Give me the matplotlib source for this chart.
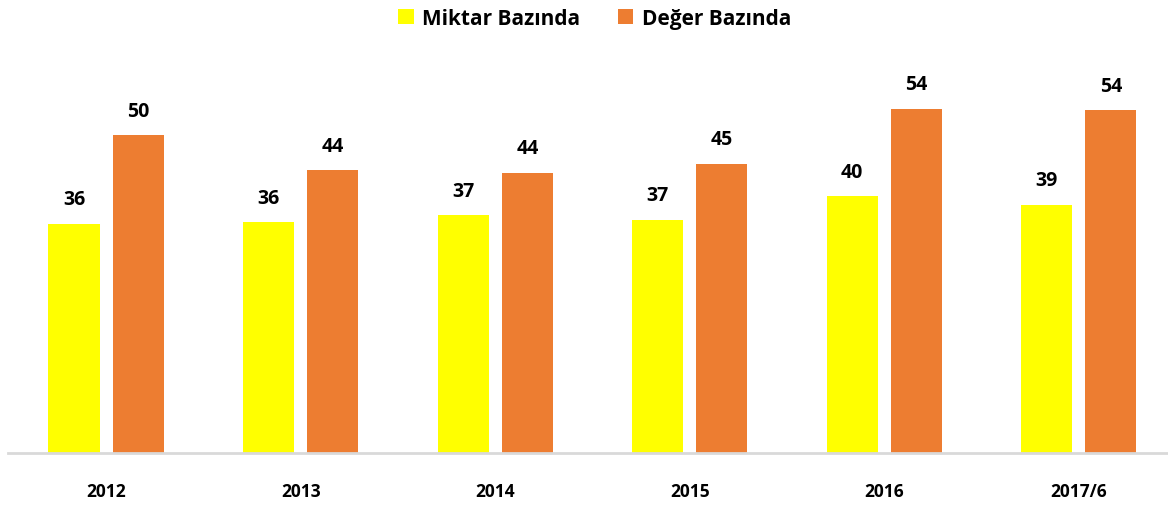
import matplotlib
matplotlib.use('Agg')
import matplotlib.pyplot as plt
import numpy as np

years = ['2012', '2013', '2014', '2015', '2016', '2017/6']
miktar = [36.0, 36.2, 37.3, 36.6, 40.3, 39.0]
deger = [49.9, 44.4, 44.0, 45.4, 54.1, 53.8]

plt.rcParams['font.family'] = ['Open Sans', 'DejaVu Sans']

fig = plt.figure(figsize=(11.68, 5.06), dpi=100)
ax = fig.add_axes([0.0068, 0.1028, 1.0, 0.755])

x = np.arange(len(years))
w = 0.263
off = 0.165
b1 = ax.bar(x - off, miktar, w, color='#ffff00', label='Miktar Bazında')
b2 = ax.bar(x + off, deger, w, color='#ed7d31', label='Değer Bazında')

for bars, vals in ((b1, miktar), (b2, deger)):
    for r, v in zip(bars, vals):
        ax.text(r.get_x() + r.get_width() / 2, v + 2.3, '%d' % round(v),
                ha='center', va='bottom', fontsize=14, fontweight='bold')

ax.set_xlim(-0.505, 5.5)
ax.set_ylim(0, 60)
ax.set_xticks(x)
ax.set_xticklabels(years, fontsize=12.5, fontweight='bold')
ax.tick_params(axis='x', length=0, pad=21)
ax.set_yticks([])
for s in ['top', 'right', 'left']:
    ax.spines[s].set_visible(False)
ax.spines['bottom'].set_color('#d9d9d9')
ax.spines['bottom'].set_linewidth(2)

fig.legend(loc='upper center', bbox_to_anchor=(0.509, 1.02), ncol=2, frameon=False,
           prop={'size': 15, 'weight': 'bold'}, handlelength=0.75, handleheight=0.75,
           handletextpad=0.4, columnspacing=1.8)

fig.savefig('out.png', dpi=100)
